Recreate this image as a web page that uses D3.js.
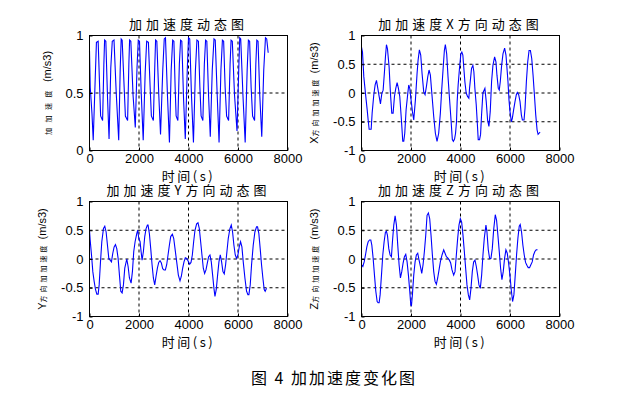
<!DOCTYPE html>
<html>
<head>
<meta charset="utf-8">
<script src="https://cdn.jsdelivr.net/npm/d3@7/dist/d3.min.js"></script>
<style>
  html, body { margin: 0; padding: 0; background: #fff; }
  svg { display: block; }
  .tick text { font-family: "Liberation Sans", Arial, sans-serif; font-size: 13px; fill: #000; }
  .cjk { font-family: "Noto Sans CJK SC", sans-serif; fill: #000; }
  .latin { font-family: "Liberation Sans", Arial, sans-serif; fill: #000; }
</style>
</head>
<body>
<svg id="chart" width="621" height="398"></svg>
<script>
var timeTicks = [0, 2000, 4000, 6000, 8000];
var jerkTicks = [0, 0.5, 1];
var axisTicks = [-1, -0.5, 0, 0.5, 1];

var panelTitles = ["加加速度动态图", "加加速度X方向动态图", "加加速度Y方向动态图", "加加速度Z方向动态图"];
var labelHeads = ["", "X", "Y", "Z"];
var labelBodies = ["加加速度", "方向加加速度", "方向加加速度", "方向加加速度"];
var labelUnit = " (m/s3)";
var xLabel = "时间(s)";
var caption = "图 4  加加速度变化图";

// [time (s), jerk]
var jerkSeries = [
  [0,.87],[30,.55],[100,.32],[150,.09],
  [230,.62],[280,.94],[350,.95],[410,.55],[450,.30],[530,.26],
  [580,.75],[610,.96],[660,.95],[730,.45],[790,.10],
  [860,.72],[920,.95],[990,.96],[1080,.50],[1180,.09],
  [1240,.70],[1280,.97],[1320,.96],[1400,.55],[1450,.30],[1540,.26],
  [1590,.75],[1620,.96],[1670,.95],[1760,.48],[1850,.20],
  [1920,.72],[1970,.96],[2020,.95],[2090,.50],[2170,.09],
  [2250,.68],[2310,.95],[2380,.94],[2450,.55],[2500,.30],[2580,.26],
  [2640,.75],[2670,.96],[2720,.95],[2800,.48],[2870,.14],
  [2960,.70],[3020,.97],[3070,.98],[3150,.48],[3230,.07],
  [3300,.70],[3360,.96],[3410,.95],[3460,.55],[3500,.30],[3570,.26],
  [3630,.75],[3680,.96],[3730,.95],[3800,.45],[3870,.10],
  [3950,.70],[4000,.98],[4050,.97],[4120,.48],[4200,.07],
  [4280,.70],[4340,.96],[4400,.95],[4460,.55],[4510,.30],[4580,.26],
  [4640,.75],[4690,.96],[4740,.95],[4810,.48],[4880,.12],
  [4960,.70],[5030,.97],[5080,.96],[5160,.48],[5235,.07],
  [5310,.70],[5370,.96],[5420,.95],[5480,.55],[5540,.30],[5620,.26],
  [5680,.75],[5720,.96],[5770,.95],[5860,.48],[5960,.17],
  [6030,.70],[6070,.98],[6110,.97],[6200,.48],[6290,.07],
  [6370,.70],[6420,.96],[6470,.95],[6530,.55],[6590,.30],[6670,.26],
  [6720,.75],[6760,.96],[6810,.95],[6880,.48],[6960,.12],
  [7040,.70],[7110,.98],[7160,.97],[7220,.85]
];

var jerkX = [
  [0,.80],[40,.71],[94,.28],[161,-.01],[229,-.29],[269,-.47],[309,-.63],[390,-.63],[430,-.35],
  [497,-.03],[551,.14],[605,.22],[659,.08],[713,-.06],[766,-.19],[820,-.01],[874,.05],[928,.37],
  [968,.63],[1008,.84],[1049,.77],[1116,.45],[1170,-.01],[1223,-.35],[1277,-.35],[1331,-.06],
  [1385,.08],[1439,.18],[1492,.08],[1546,-.06],[1613,-.47],[1667,-.84],[1708,-.84],[1748,-.70],
  [1802,-.29],[1869,-.01],[1909,.14],[1950,.08],[2003,-.12],[2057,-.32],[2111,-.47],[2178,-.12],
  [2245,.34],[2286,.57],[2339,.75],[2393,.66],[2447,.34],[2514,.02],[2568,-.03],[2622,.11],
  [2676,.28],[2729,.40],[2783,.31],[2837,.02],[2918,-.41],[2985,-.70],[3052,-.84],[3119,-.70],
  [3186,-.35],[3240,.05],[3294,.40],[3348,.74],[3388,.84],[3442,.68],[3496,.28],[3550,-.06],
  [3617,-.47],[3670,-.81],[3711,-.84],[3760,-.80],[3800,-.70],[3838,-.50],[3865,-.15],[3905,.14],
  [3959,.43],[4014,.68],[4054,.71],[4095,.66],[4135,.43],[4176,.20],[4230,0],[4284,-.06],
  [4338,-.09],[4365,.08],[4405,.25],[4446,.43],[4500,.48],[4540,.37],[4581,.08],[4635,-.20],
  [4676,-.50],[4716,-.81],[4770,-.81],[4811,-.72],[4851,-.38],[4905,0],[4986,.08],[5040,-.15],
  [5094,-.47],[5148,-.58],[5202,-.32],[5256,.20],[5310,.48],[5378,.63],[5432,.54],[5473,.31],
  [5527,.08],[5567,.05],[5608,.20],[5662,.48],[5716,.68],[5783,.78],[5837,.66],[5878,.43],
  [5918,.20],[5959,-.12],[5999,-.32],[6054,-.50],[6094,-.44],[6148,-.29],[6202,-.15],[6256,-.03],
  [6297,.01],[6351,-.03],[6405,-.15],[6459,-.38],[6500,-.47],[6567,-.47],[6608,-.26],[6662,.20],
  [6716,.54],[6770,.74],[6824,.74],[6878,.60],[6932,.31],[6986,-.03],[7040,-.38],[7094,-.64],
  [7135,-.72],[7175,-.70],[7216,-.68]
];

var jerkY = [
  [0,.50],[27,.33],[81,.07],[134,-.22],[188,-.39],[242,-.53],[296,-.61],[350,-.61],[390,-.45],
  [444,-.05],[497,.30],[565,.53],[618,.57],[672,.47],[726,.24],[780,.01],[834,-.02],[887,-.05],
  [941,.10],[995,.21],[1049,.25],[1102,.18],[1156,.01],[1210,-.28],[1264,-.56],[1318,-.59],
  [1371,-.45],[1425,-.16],[1506,0],[1560,-.13],[1613,-.33],[1681,-.42],[1734,-.22],[1788,.13],
  [1842,.30],[1909,.44],[1950,.50],[1990,.36],[2044,.30],[2084,.13],[2124,-.02],[2178,.13],
  [2232,.39],[2286,.53],[2339,.59],[2366,.59],[2420,.44],[2474,.18],[2528,-.10],[2581,-.33],
  [2635,-.45],[2689,-.30],[2743,-.16],[2797,-.06],[2850,-.03],[2904,-.07],[2958,-.17],[3012,-.19],
  [3065,-.19],[3119,-.10],[3173,.07],[3227,.24],[3281,.39],[3348,.43],[3402,.36],[3455,.18],
  [3523,-.05],[3590,-.28],[3657,-.38],[3711,-.30],[3765,-.16],[3818,-.05],[3872,.02],[3926,.01],
  [3980,-.03],[4047,-.09],[4101,-.06],[4155,.07],[4208,.30],[4262,.50],[4329,.61],[4383,.63],
  [4437,.53],[4491,.30],[4544,.07],[4598,-.16],[4652,-.25],[4706,-.19],[4760,-.07],[4813,.04],
  [4867,.07],[4921,-.05],[4975,-.28],[5028,-.51],[5069,-.65],[5122,-.53],[5176,-.28],[5230,-.05],
  [5284,.07],[5338,-.05],[5391,-.22],[5445,-.26],[5499,-.10],[5553,.13],[5607,.36],[5674,.53],
  [5728,.59],[5781,.47],[5835,.24],[5889,.07],[5943,.01],[5997,.07],[6050,.21],[6104,.30],
  [6158,.21],[6212,-.05],[6279,-.33],[6346,-.56],[6400,-.62],[6440,-.62],[6494,-.45],[6548,-.10],
  [6615,.24],[6682,.47],[6749,.56],[6790,.56],[6843,.44],[6897,.18],[6951,-.10],[7005,-.33],
  [7059,-.53],[7099,-.56],[7153,-.51]
];

var jerkZ = [
  [0,-.10],[54,-.13],[108,-.05],[161,.07],[215,.21],[269,.30],[323,.33],[376,.33],[417,.24],
  [471,.01],[524,-.28],[578,-.56],[632,-.74],[672,-.76],[713,-.76],[753,-.62],[807,-.28],[860,.07],
  [914,.30],[968,.47],[1008,.48],[1049,.41],[1102,.18],[1156,.07],[1210,.04],[1250,.30],[1304,.59],
  [1358,.75],[1412,.59],[1465,.24],[1519,-.10],[1573,-.33],[1627,-.22],[1681,-.07],[1734,.04],
  [1788,.08],[1842,-.05],[1896,-.28],[1950,-.56],[1990,-.79],[2017,-.82],[2057,-.62],[2111,-.28],
  [2165,-.05],[2218,.07],[2272,.10],[2326,-.02],[2380,-.13],[2434,-.25],[2487,-.10],[2541,.13],
  [2595,.41],[2649,.76],[2702,.80],[2756,.70],[2810,.41],[2864,.07],[2918,-.22],[2971,-.39],
  [3025,-.44],[3079,-.33],[3133,-.19],[3186,-.05],[3254,.07],[3321,.16],[3375,.10],[3429,.04],
  [3482,.02],[3550,-.02],[3603,-.07],[3657,-.19],[3724,-.28],[3778,-.22],[3832,.07],[3886,.36],
  [3939,.59],[3993,.70],[4047,.64],[4101,.41],[4155,.13],[4208,-.16],[4262,-.45],[4316,-.62],
  [4370,-.71],[4423,-.51],[4477,-.22],[4531,-.05],[4585,-.02],[4639,-.13],[4692,-.28],[4746,-.45],
  [4800,-.51],[4854,-.28],[4907,.07],[4961,.36],[5028,.59],[5069,.47],[5122,.16],[5176,.01],
  [5230,.01],[5284,.18],[5338,.50],[5405,.77],[5459,.67],[5512,.41],[5566,.13],[5620,-.16],
  [5674,-.36],[5727,-.22],[5781,.01],[5835,.16],[5889,.10],[5943,-.07],[5997,-.28],[6050,-.53],
  [6104,-.74],[6158,-.62],[6212,-.28],[6265,.07],[6319,.36],[6373,.57],[6413,.60],[6467,.47],
  [6521,.24],[6575,.07],[6628,-.06],[6682,-.11],[6736,-.15],[6790,-.15],[6843,-.10],[6897,-.05],
  [6951,.07],[7005,.13],[7059,.16],[7112,.16]
];

var panelW = 198, panelH = 115;
var svg = d3.select("#chart");
svg.append("rect").attr("width", 621).attr("height", 398).attr("fill", "#fff");

var panels = [
  {left: 89.5, top: 35.5, data: jerkSeries, domain: [0, 1], ticks: jerkTicks, labelGap: 43, tinySpacing: 5.5},
  {left: 361.5, top: 35.5, data: jerkX, domain: [-1, 1], ticks: axisTicks, labelGap: 48, tinySpacing: 3},
  {left: 89.5, top: 201.5, data: jerkY, domain: [-1, 1], ticks: axisTicks, labelGap: 48, tinySpacing: 3},
  {left: 361.5, top: 201.5, data: jerkZ, domain: [-1, 1], ticks: axisTicks, labelGap: 48, tinySpacing: 3}
];

panels.forEach(function (p, i) {
  var g = svg.append("g").attr("transform", "translate(" + p.left + "," + p.top + ")");
  var x = d3.scaleLinear().domain([0, 8000]).range([0, panelW]);
  var y = d3.scaleLinear().domain(p.domain).range([panelH, 0]);

  // dashed grid at the inner ticks
  g.append("g").selectAll("line").data(timeTicks.slice(1, -1)).enter().append("line")
    .attr("x1", function (d) { return x(d); }).attr("x2", function (d) { return x(d); })
    .attr("y1", 0).attr("y2", panelH)
    .attr("stroke", "#000").attr("stroke-dasharray", "3,3");
  g.append("g").selectAll("line").data(p.ticks.slice(1, -1)).enter().append("line")
    .attr("x1", 0).attr("x2", panelW)
    .attr("y1", function (d) { return y(d); }).attr("y2", function (d) { return y(d); })
    .attr("stroke", "#000").attr("stroke-dasharray", "3,3");

  var line = d3.line().x(function (d) { return x(d[0]); }).y(function (d) { return y(d[1]); });
  g.append("path").datum(p.data).attr("d", line)
    .attr("fill", "none").attr("stroke", "#0000ff").attr("stroke-width", 1.1);

  var xAxis = g.append("g").attr("transform", "translate(0," + panelH + ")")
    .call(d3.axisBottom(x).tickValues(timeTicks).tickSizeInner(-3).tickSizeOuter(0).tickPadding(3)
      .tickFormat(function (d) { return String(d); }));
  var yAxis = g.append("g")
    .call(d3.axisLeft(y).tickValues(p.ticks).tickSizeInner(-3).tickSizeOuter(0).tickPadding(6)
      .tickFormat(function (d) { return String(d); }));
  [xAxis, yAxis].forEach(function (a) {
    a.select(".domain").remove();
    a.attr("font-family", null).attr("font-size", null);
    a.selectAll(".tick line").attr("stroke", "#000");
  });

  g.append("rect").attr("width", panelW).attr("height", panelH)
    .attr("fill", "none").attr("stroke", "#000");

  g.append("text").attr("class", "cjk").attr("x", panelW / 2).attr("y", -6.5)
    .attr("text-anchor", "middle").style("font-size", "13px").style("letter-spacing", "4px")
    .text(panelTitles[i]);

  g.append("text").attr("class", "cjk").attr("x", panelW / 2).attr("y", panelH + 30.5)
    .attr("text-anchor", "middle").style("font-size", "13px").style("letter-spacing", "2.5px")
    .text(xLabel);

  var yl = g.append("text").attr("text-anchor", "middle")
    .attr("transform", "translate(" + (-p.labelGap + 4) + "," + (panelH / 2) + ") rotate(-90)");
  if (labelHeads[i]) {
    yl.append("tspan").attr("class", "latin").style("font-size", "11px").text(labelHeads[i]);
  }
  yl.append("tspan").attr("class", "cjk").style("font-size", "7px")
    .style("letter-spacing", p.tinySpacing + "px").text(labelBodies[i]);
  yl.append("tspan").attr("class", "latin").style("font-size", "11px").text(labelUnit);
});

svg.append("text").attr("class", "cjk").attr("x", 334).attr("y", 384)
  .attr("text-anchor", "middle").style("font-size", "16px").style("letter-spacing", "2px")
  .text(caption);
</script>
</body>
</html>
